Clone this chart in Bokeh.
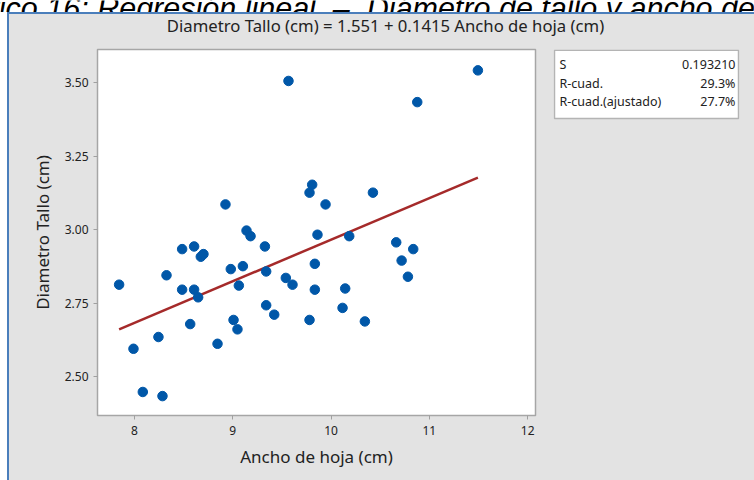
from bokeh.plotting import figure
from bokeh.models import FixedTicker, PrintfTickFormatter, Div, Range1d
from bokeh.layouts import row, column
from bokeh.core.properties import value
from bokeh.embed import file_html
from bokeh.resources import INLINE

# ---- data ----
ancho_hoja = [7.844, 7.990, 8.085, 8.244, 8.285, 8.326, 8.485, 8.485, 8.567, 8.607,
              8.607, 8.648, 8.675, 8.702, 8.845, 8.926, 8.980, 9.008, 9.048, 9.062,
              9.103, 9.140, 9.181, 9.327, 9.340, 9.340, 9.422, 9.540, 9.567, 9.608,
              9.781, 9.808, 9.781, 9.835, 9.835, 9.862, 9.944, 10.117, 10.144, 10.185,
              10.344, 10.426, 10.663, 10.718, 10.782, 10.836, 10.877, 11.494]
diametro_tallo = [2.813, 2.595, 2.448, 2.635, 2.434, 2.845, 2.934, 2.796, 2.679, 2.943,
                  2.796, 2.770, 2.908, 2.917, 2.612, 3.086, 2.866, 2.693, 2.661, 2.810,
                  2.876, 2.997, 2.978, 2.943, 2.858, 2.743, 2.711, 2.836, 3.506, 2.813,
                  3.126, 3.153, 2.693, 2.884, 2.796, 2.983, 3.086, 2.734, 2.800, 2.978,
                  2.688, 3.126, 2.957, 2.895, 2.840, 2.934, 3.434, 3.542]
intercepto = 1.551
pendiente = 0.1415
stat_names = ["S", "R-cuad.", "R-cuad.(ajustado)"]
stat_values = ["0.193210", "29.3%", "27.7%"]
x_ticks = [8, 9, 10, 11, 12]
y_ticks = [2.50, 2.75, 3.00, 3.25, 3.50]
caption = "Gráfico 16: Regresión lineal\u00a0 –\u00a0 Diámetro de tallo y ancho de hoja"
titulo = "Diametro Tallo (cm) = %.3f + %.4f Ancho de hoja (cm)" % (intercepto, pendiente)

FONT = "Noto Sans"
GRAY = "#e3e3e3"
BLUE = "#4a7ebb"
TXT = "#222222"


def blank_fig(w, h, xr, yr, bg):
    f = figure(width=w, height=h, output_backend="svg", toolbar_location=None,
               x_range=xr, y_range=yr, x_axis_type=None, y_axis_type=None,
               min_border=0, border_fill_color=bg, background_fill_color=bg,
               outline_line_color=None, margin=0,
               styles={"background-color": bg})
    f.grid.visible = False
    return f


# ---- main scatter plot ----
main = figure(width=544, height=432, output_backend="svg", toolbar_location=None,
              x_range=(7.624, 12.08), y_range=(2.368, 3.613),
              min_border_left=88, min_border_right=18,
              min_border_top=1, min_border_bottom=65,
              border_fill_color=GRAY, background_fill_color="white",
              outline_line_color="#a6a6a6", outline_line_width=1.5, margin=0,
              styles={"background-color": GRAY})
main.grid.visible = False
for ax in (main.xaxis[0], main.yaxis[0]):
    ax.axis_line_color = None
    ax.major_tick_line_color = "#a0a0a0"
    ax.major_tick_out = 4
    ax.major_tick_in = 0
    ax.minor_tick_line_color = None
    ax.major_label_text_font = FONT
    ax.major_label_text_font_size = "12px"
    ax.major_label_text_color = TXT
    ax.axis_label_text_font = FONT
    ax.axis_label_text_font_size = "17px"
    ax.axis_label_text_font_style = "normal"
    ax.axis_label_text_color = TXT
main.xaxis.ticker = FixedTicker(ticks=x_ticks)
main.yaxis.ticker = FixedTicker(ticks=y_ticks)
main.yaxis.formatter = PrintfTickFormatter(format="%.2f")
main.xaxis.axis_label = "Ancho de hoja (cm)"
main.yaxis.axis_label = "Diametro Tallo (cm)"
main.xaxis.major_label_standoff = 6
main.yaxis.major_label_standoff = 5
main.xaxis.axis_label_standoff = 7
main.yaxis.axis_label_standoff = 8

x0, x1 = min(ancho_hoja), max(ancho_hoja)
main.line([x0, x1], [intercepto + pendiente * x0, intercepto + pendiente * x1],
          line_color="#a52a2a", line_width=2.5)
main.scatter(ancho_hoja, diametro_tallo, size=9.5, color="#0057a8", line_color="#0057a8")

# ---- stats box (side figure; same vertical borders as main) ----
side = figure(width=201, height=432, output_backend="svg", toolbar_location=None,
              x_range=Range1d(0, 186), y_range=Range1d(366, 0),
              x_axis_type=None, y_axis_type=None,
              min_border_left=0, min_border_right=15,
              min_border_top=1, min_border_bottom=65,
              border_fill_color=GRAY, background_fill_color=GRAY,
              background_fill_alpha=0,
              outline_line_color=None, margin=0,
              styles={"background-color": GRAY})
side.grid.visible = False
side.quad(left=[1], right=[185], top=[0.8], bottom=[69], fill_color="white",
          line_color="#b4b4b4", line_width=1.5)
rows_y = [15 + 18.5 * i for i in range(len(stat_names))]
side.text(x=[6] * len(stat_names), y=rows_y, text=stat_names,
          text_font=value(FONT), text_font_size="12.5px", text_color=TXT,
          text_align="left", text_baseline="middle")
side.text(x=[182] * len(stat_values), y=rows_y, text=stat_values,
          text_font=value(FONT), text_font_size="12.5px", text_color=TXT,
          text_align="right", text_baseline="middle")

# ---- title above the plots ----
title_fig = blank_fig(745, 34, Range1d(0, 745), Range1d(34, 0), GRAY)
title_fig.text(x=[376], y=[11], text=[titulo], text_font=value(FONT),
               text_font_size="16.7px", text_color=TXT,
               text_align="center", text_baseline="middle")

# ---- clipped document caption ----
caption_fig = blank_fig(754, 12, Range1d(0, 754), Range1d(12, 0), "white")
caption_fig.text(x=[-61], y=[7], text=[caption], text_font=value("Liberation Sans"),
                 text_font_style="italic", text_font_size="30.5px", text_color="black",
                 text_align="left", text_baseline="alphabetic")

# ---- panel borders ----
white_left = Div(text="", width=7, height=468, margin=0,
                 styles={"background-color": "white"})
blue_top = Div(text="", width=747, height=2, margin=0,
               styles={"background-color": BLUE})
blue_left = Div(text="", width=2, height=466, margin=0,
                styles={"background-color": BLUE})

p = column(
    caption_fig,
    row(white_left,
        column(blue_top,
               row(blue_left,
                   column(title_fig, row(main, side, spacing=0), spacing=0),
                   spacing=0),
               spacing=0),
        spacing=0),
    spacing=0)

open("out.html", "w").write(file_html(p, INLINE))
